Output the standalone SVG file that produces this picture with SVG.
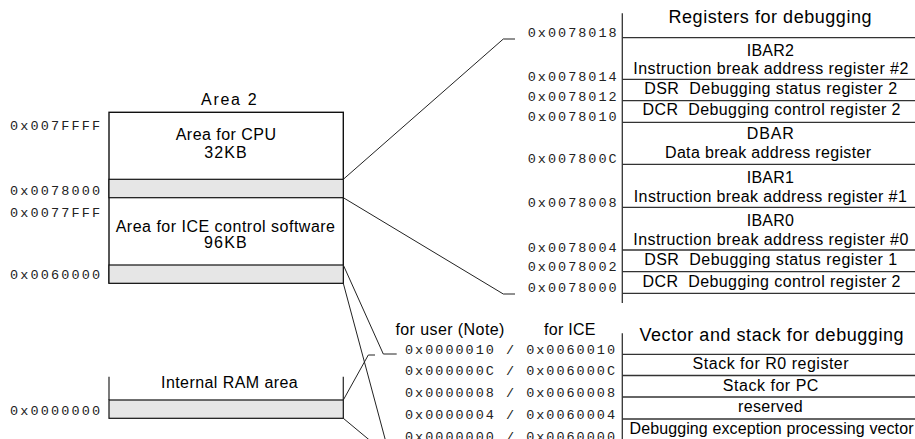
<svg xmlns="http://www.w3.org/2000/svg" width="915" height="439" viewBox="0 0 915 439">
<style>
.t{font-family:"Liberation Sans",Arial,sans-serif;font-size:16px;fill:#000;white-space:pre}
.h{font-family:"Liberation Sans",Arial,sans-serif;font-size:18px;fill:#000}
.m{font-family:"Liberation Mono","Courier New",monospace;font-size:13.5px;fill:#222;white-space:pre}
.c{text-anchor:middle}
.ln{stroke:#333;stroke-width:1.3;fill:none}
.box{stroke:#111;stroke-width:1.4;fill:#fff}
.band{stroke:#111;stroke-width:1.2;fill:#e6e6e6}
.cn{stroke:#222;stroke-width:1;fill:none}
</style>
<rect width="915" height="439" fill="#fff"/>

<g id="area2">
  <text class="t" x="201" y="105" textLength="55.7">Area 2</text>
  <rect class="box" x="109" y="112.3" width="234.3" height="170.7"/>
  <rect class="band" x="109" y="179.3" width="234.3" height="18.4"/>
  <rect class="band" x="109" y="265" width="234.3" height="18.3"/>
  <text class="t" x="175.7" y="140" textLength="100.3">Area for CPU</text>
  <text class="t" x="204.3" y="158.3" textLength="42.4">32KB</text>
  <text class="t" x="115.7" y="232.3" textLength="219.3">Area for ICE control software</text>
  <text class="t" x="204" y="248.3" textLength="42.7">96KB</text>
  <text class="m" x="10" y="130" textLength="90">0x007FFFF</text>
  <text class="m" x="10" y="195" textLength="90">0x0078000</text>
  <text class="m" x="10" y="216.7" textLength="90">0x0077FFF</text>
  <text class="m" x="10" y="279.3" textLength="90">0x0060000</text>
</g>

<g id="internal-ram">
  <line class="ln" x1="109" y1="376.7" x2="109" y2="400"/>
  <line class="ln" x1="343.3" y1="376.7" x2="343.3" y2="400"/>
  <rect class="band" x="109" y="400" width="234.3" height="18.3"/>
  <text class="t" x="161" y="388.3" textLength="136.7">Internal RAM area</text>
  <text class="m" x="10" y="415" textLength="90">0x0000000</text>
</g>

<g id="registers">
  <text class="h c" x="770" y="23" textLength="203">Registers for debugging</text>
  <line class="ln" x1="622.3" y1="13.3" x2="622.3" y2="303"/>
  <line class="ln" x1="622.3" y1="37.7" x2="915" y2="37.7"/>
  <line class="ln" x1="622.3" y1="79.3" x2="915" y2="79.3"/>
  <line class="ln" x1="622.3" y1="100.7" x2="915" y2="100.7"/>
  <line class="ln" x1="622.3" y1="122.3" x2="915" y2="122.3"/>
  <line class="ln" x1="622.3" y1="164.3" x2="915" y2="164.3"/>
  <line class="ln" x1="622.3" y1="207.3" x2="915" y2="207.3"/>
  <line class="ln" x1="622.3" y1="250" x2="915" y2="250"/>
  <line class="ln" x1="622.3" y1="271.7" x2="915" y2="271.7"/>
  <line class="ln" x1="622.3" y1="293.3" x2="915" y2="293.3"/>
  <text class="t c" x="770.3" y="56" textLength="47">IBAR2</text>
  <text class="t c" x="770.8" y="74" textLength="275">Instruction break address register #2</text>
  <text class="t c" x="770.7" y="94.3" textLength="253">DSR  Debugging status register 2</text>
  <text class="t c" x="771.5" y="115" textLength="258">DCR  Debugging control register 2</text>
  <text class="t c" x="770.3" y="139.3" textLength="47">DBAR</text>
  <text class="t c" x="768" y="158" textLength="206">Data break address register</text>
  <text class="t c" x="770.3" y="183.3" textLength="47">IBAR1</text>
  <text class="t c" x="770.3" y="201.7" textLength="273">Instruction break address register #1</text>
  <text class="t c" x="770.3" y="226" textLength="47">IBAR0</text>
  <text class="t c" x="770.8" y="245" textLength="275">Instruction break address register #0</text>
  <text class="t c" x="770.7" y="265" textLength="253">DSR  Debugging status register 1</text>
  <text class="t c" x="771.5" y="286.7" textLength="258">DCR  Debugging control register 2</text>
  <text class="m" x="527.7" y="37" textLength="89">0x0078018</text>
  <text class="m" x="527.7" y="80.5" textLength="89">0x0078014</text>
  <text class="m" x="527.7" y="100.5" textLength="89">0x0078012</text>
  <text class="m" x="527.7" y="121.3" textLength="89">0x0078010</text>
  <text class="m" x="527.7" y="162.5" textLength="89">0x007800C</text>
  <text class="m" x="527.7" y="207" textLength="89">0x0078008</text>
  <text class="m" x="527.7" y="251.5" textLength="89">0x0078004</text>
  <text class="m" x="527.7" y="271.2" textLength="89">0x0078002</text>
  <text class="m" x="527.7" y="291.5" textLength="89">0x0078000</text>
</g>

<g id="vectors">
  <text class="t" x="395.4" y="335" textLength="109">for user (Note)</text>
  <text class="t" x="544" y="335" textLength="51.4">for ICE</text>
  <text class="h c" x="771.5" y="340.7" textLength="264">Vector and stack for debugging</text>
  <line class="ln" x1="622.3" y1="333.3" x2="622.3" y2="439"/>
  <line class="ln" x1="622.3" y1="354.3" x2="915" y2="354.3"/>
  <line class="ln" x1="622.3" y1="375.5" x2="915" y2="375.5"/>
  <line class="ln" x1="622.3" y1="397" x2="915" y2="397"/>
  <line class="ln" x1="622.3" y1="419" x2="915" y2="419"/>
  <text class="t c" x="770.6" y="369.3" textLength="156">Stack for R0 register</text>
  <text class="t c" x="770.6" y="390.5" textLength="95.6">Stack for PC</text>
  <text class="t c" x="770.3" y="412" textLength="64.5">reserved</text>
  <text class="t c" x="771.5" y="434" textLength="284">Debugging exception processing vector</text>
  <text class="m" x="405" y="354" textLength="210">0x0000010 / 0x0060010</text>
  <text class="m" x="405" y="375" textLength="210">0x000000C / 0x006000C</text>
  <text class="m" x="405" y="396.7" textLength="210">0x0000008 / 0x0060008</text>
  <text class="m" x="405" y="418.5" textLength="210">0x0000004 / 0x0060004</text>
  <text class="m" x="405" y="440.5" textLength="210">0x0000000 / 0x0060000</text>
</g>

<g id="connectors">
  <polyline class="cn" points="343.3,179.3 503.3,39 515,39"/>
  <polyline class="cn" points="343.3,197.7 503.3,294 515,294"/>
  <polyline class="cn" points="343.3,265 383.3,354 396.7,354"/>
  <polyline class="cn" points="343.3,283.3 385.5,440.5 397,440.5"/>
  <polyline class="cn" points="343.3,400 368.3,355 375,355"/>
  <polyline class="cn" points="343.3,418.3 370,440.5 376,440.5"/>
</g>
</svg>
